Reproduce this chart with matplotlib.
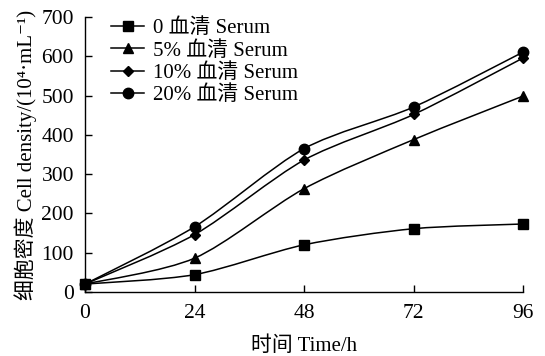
import matplotlib
matplotlib.use("Agg")
import matplotlib.pyplot as plt
import numpy as np
from matplotlib.path import Path
from matplotlib.patches import PathPatch

plt.rcParams.update({
    "font.family": ["Liberation Serif", "Noto Sans CJK SC", "DejaVu Serif"],
    "font.size": 15,
    "axes.linewidth": 1.0,
})

# data
hours = [0, 24, 48, 72, 96]
serum_0 = [20, 44, 120, 161, 173]
serum_5 = [20, 86, 263, 388, 499]
serum_10 = [20, 146, 336, 452, 596]
serum_20 = [20, 166, 365, 471, 611]
series = [
    ("0 血清 Serum", serum_0, "s", 7),
    ("5% 血清 Serum", serum_5, "^", 6.5),
    ("10% 血清 Serum", serum_10, "D", 5),
    ("20% 血清 Serum", serum_20, "o", 7.5),
]
x_ticks = [0, 24, 48, 72, 96]
y_ticks = [0, 100, 200, 300, 400, 500, 600, 700]


def smooth_path(x, y, t=0.14):
    # Catmull-Rom style smoothing (like Excel smoothed lines) as cubic Bezier
    x = np.asarray(x, float)
    y = np.asarray(y, float)
    n = len(x)
    verts = [(x[0], y[0])]
    codes = [Path.MOVETO]
    for i in range(n - 1):
        x0, y0 = (x[i - 1], y[i - 1]) if i > 0 else (x[i], y[i])
        x3, y3 = (x[i + 2], y[i + 2]) if i + 2 < n else (x[i + 1], y[i + 1])
        c1 = (x[i] + (x[i + 1] - x0) * t, y[i] + (y[i + 1] - y0) * t)
        c2 = (x[i + 1] - (x3 - x[i]) * t, y[i + 1] - (y3 - y[i]) * t)
        verts += [c1, c2, (x[i + 1], y[i + 1])]
        codes += [Path.CURVE4] * 3
    return Path(verts, codes)


fig = plt.figure(figsize=(5.45, 3.56), dpi=100)
ax = fig.add_axes([0.156, 0.18, 0.804, 0.772])

for label, vals, marker, ms in series:
    ax.add_patch(PathPatch(smooth_path(hours, vals), fill=False,
                           edgecolor="black", lw=1.1))
    ax.plot(hours, vals, ls="none", marker=marker, ms=ms, color="black",
            zorder=3, clip_on=False)
    ax.plot([], [], "-", marker=marker, ms=ms, color="black", lw=1.1,
            label=label)

ax.set_xlim(0, 96)
ax.set_ylim(0, 700)
ax.set_xticks(x_ticks)
ax.set_yticks(y_ticks)
ax.tick_params(direction="in", length=5, width=1.0, labelsize=15.5)
ax.tick_params(axis="x", pad=9)
ax.tick_params(axis="y", pad=8)
for s in ("top", "right"):
    ax.spines[s].set_visible(False)

ax.set_xlabel("时间 Time/h", fontsize=15, labelpad=9)
ax.set_ylabel("细胞密度 Cell density/(10⁴·mL⁻¹)", fontsize=15, labelpad=3)

ax.legend(loc="upper left", bbox_to_anchor=(0.04, 1.025), frameon=False,
          fontsize=15, handlelength=1.6, handletextpad=0.4,
          labelspacing=0.12, borderaxespad=0)

fig.savefig("out.png", dpi=100)
